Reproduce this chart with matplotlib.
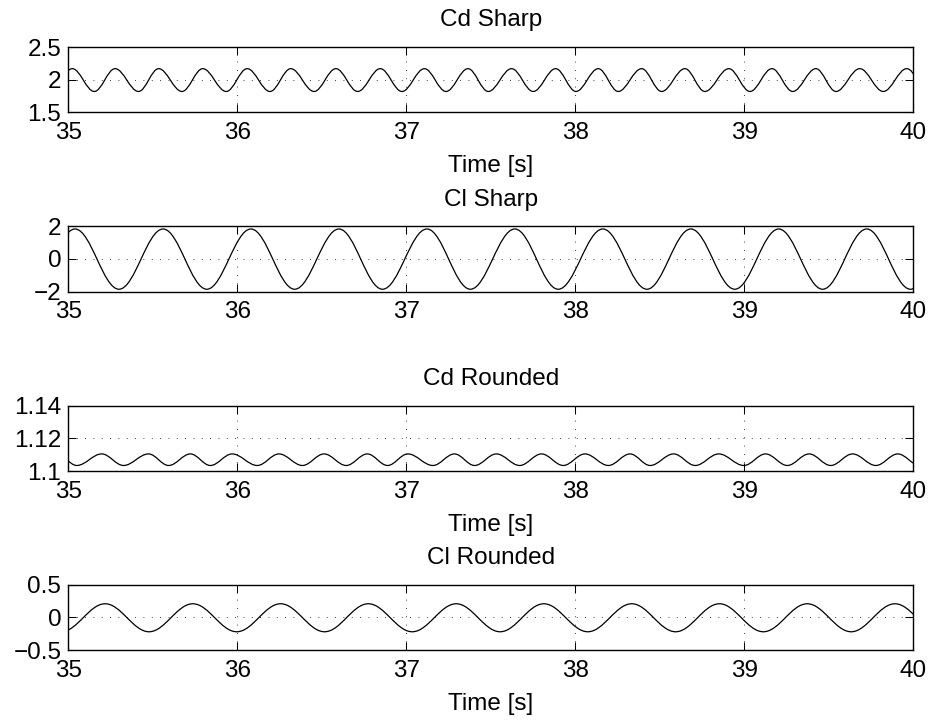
import numpy as np
import matplotlib
matplotlib.use('Agg')
import matplotlib.pyplot as plt
from matplotlib.path import Path
from matplotlib.patches import PathPatch
from matplotlib.ticker import FuncFormatter

plt.rcParams['font.family'] = ['Liberation Sans', 'DejaVu Sans']

# extrema of each signal (time [s], value)
cd_sharp_t = [34.894, 35.024, 35.154, 35.277, 35.416, 35.535, 35.673, 35.796, 35.935, 36.059,
              36.194, 36.317, 36.455, 36.584, 36.713, 36.847, 36.975, 37.108, 37.236, 37.366,
              37.486, 37.624, 37.752, 37.885, 38.005, 38.137, 38.255, 38.394, 38.512, 38.650,
              38.768, 38.910, 39.035, 39.165, 39.288, 39.425, 39.544, 39.685, 39.824, 39.963,
              40.090]
cd_sharp_v = [1.82, 2.17, 1.82, 2.17, 1.82, 2.17, 1.82, 2.17, 1.82, 2.17,
              1.82, 2.17, 1.82, 2.17, 1.82, 2.17, 1.82, 2.17, 1.82, 2.17,
              1.82, 2.17, 1.82, 2.17, 1.82, 2.17, 1.82, 2.17, 1.82, 2.17,
              1.82, 2.17, 1.82, 2.17, 1.82, 2.17, 1.82, 2.17, 1.82, 2.17,
              1.82]

cl_sharp_t = [34.780, 35.040, 35.300, 35.561, 35.820, 36.081, 36.340, 36.602, 36.860, 37.123,
              37.380, 37.643, 37.900, 38.164, 38.425, 38.685, 38.945, 39.205, 39.465, 39.726,
              39.985, 40.246]
cl_sharp_v = [-1.86, 1.84, -1.86, 1.84, -1.86, 1.84, -1.86, 1.84, -1.86, 1.84,
              -1.86, 1.84, -1.86, 1.84, -1.86, 1.84, -1.86, 1.84, -1.86, 1.84,
              -1.86, 1.84]

cd_round_t = [34.935, 35.050, 35.198, 35.327, 35.475, 35.594, 35.723, 35.841, 35.970, 36.119,
              36.247, 36.386, 36.514, 36.645, 36.770, 36.890, 37.010, 37.158, 37.286, 37.405,
              37.534, 37.672, 37.801, 37.930, 38.058, 38.197, 38.325, 38.444, 38.583, 38.711,
              38.850, 38.999, 39.127, 39.256, 39.385, 39.513, 39.642, 39.780, 39.910, 40.040]
cd_round_v = [1.1105, 1.1034, 1.1105, 1.1034, 1.1105, 1.1034, 1.1105, 1.1034, 1.1105, 1.1034,
              1.1105, 1.1034, 1.1105, 1.1034, 1.1105, 1.1034, 1.1105, 1.1034, 1.1105, 1.1034,
              1.1105, 1.1034, 1.1105, 1.1034, 1.1105, 1.1034, 1.1105, 1.1034, 1.1105, 1.1034,
              1.1105, 1.1034, 1.1105, 1.1034, 1.1105, 1.1034, 1.1105, 1.1034, 1.1105, 1.1034]

cl_round_t = [34.958, 35.218, 35.478, 35.737, 35.997, 36.257, 36.517, 36.776, 37.036, 37.296,
              37.556, 37.815, 38.075, 38.335, 38.595, 38.854, 39.114, 39.374, 39.634, 39.893,
              40.153]
cl_round_v = [-0.22, 0.21, -0.22, 0.21, -0.22, 0.21, -0.22, 0.21, -0.22, 0.21,
              -0.22, 0.21, -0.22, 0.21, -0.22, 0.21, -0.22, 0.21, -0.22, 0.21,
              -0.22]

titles = ['Cd Sharp', 'Cl Sharp', 'Cd Rounded', 'Cl Rounded']
yticks = [[1.5, 2, 2.5], [-2, 0, 2], [1.1, 1.12, 1.14], [-0.5, 0, 0.5]]
xticks = [35, 36, 37, 38, 39, 40]
show_xlabel = [True, False, True, True]


def wave_path(ts, vs):
    # cubic segments between successive extrema, flat at each extremum
    a = 0.3634
    verts = [(ts[0], vs[0])]
    codes = [Path.MOVETO]
    for i in range(len(ts) - 1):
        dt = ts[i + 1] - ts[i]
        verts += [(ts[i] + a * dt, vs[i]), (ts[i + 1] - a * dt, vs[i + 1]), (ts[i + 1], vs[i + 1])]
        codes += [Path.CURVE4] * 3
    return Path(verts, codes)


def fmt(v, pos):
    return ('%g' % v).replace('-', '\u2212')


fig = plt.figure(figsize=(9.29, 7.2), dpi=100)
bottoms = [0.844, 0.5951, 0.3458, 0.0972]
series = [(cd_sharp_t, cd_sharp_v), (cl_sharp_t, cl_sharp_v),
          (cd_round_t, cd_round_v), (cl_round_t, cl_round_v)]

for k in range(4):
    ax = fig.add_axes([0.0735, bottoms[k], 0.9093, 0.0905])
    ts, vs = series[k]
    ax.add_patch(PathPatch(wave_path(ts, vs), fill=False, edgecolor='k', lw=0.9))
    ax.set_xlim(35, 40)
    ax.set_ylim(yticks[k][0], yticks[k][-1])
    ax.set_xticks(xticks)
    ax.set_yticks(yticks[k])
    ax.yaxis.set_major_formatter(FuncFormatter(fmt))
    ax.grid(True, color='k', linestyle=(0, (1, 9)), linewidth=0.6)
    ax.tick_params(direction='in', top=True, right=True, length=6, width=0.75,
                   labelsize=17.5)
    ax.tick_params(axis='x', pad=7)
    ax.tick_params(axis='y', pad=5)
    for s in ax.spines.values():
        s.set_linewidth(1.0)
    ax.set_title(titles[k], fontsize=17.5, pad=15)
    if show_xlabel[k]:
        ax.set_xlabel('Time [s]', fontsize=17.5, labelpad=8)

fig.savefig('out.png', dpi=100)
